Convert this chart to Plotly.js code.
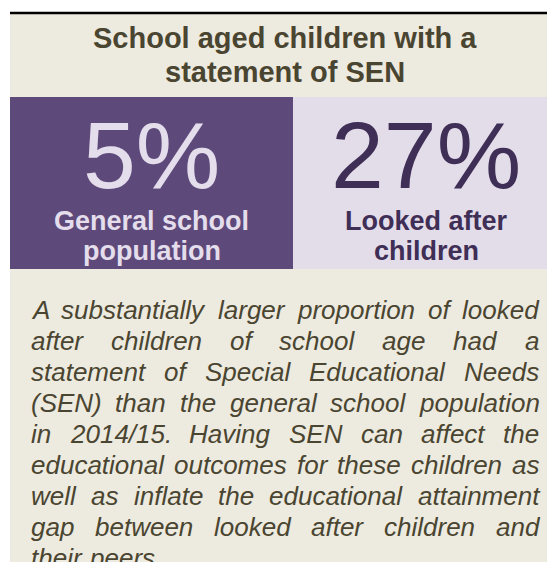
<!DOCTYPE html>
<html><head><meta charset="utf-8">
<script src="https://cdn.plot.ly/plotly-3.0.1.min.js"></script>
<style>html,body{margin:0;padding:0;background:#fff;overflow:hidden}#chart{width:547px;height:562px}</style>
</head><body><div id="chart"></div>
<script>
// ---- data ----
const titleLines = ['School aged children with a', 'statement of SEN'];
const categoryLines = [['General school', 'population'], ['Looked after', 'children']];
const values = [5, 27];
const valueSuffix = '%';
const paragraphLines = [
  'A substantially larger proportion of looked',
  'after children of school age had a',
  'statement of Special Educational Needs',
  '(SEN) than the general school population',
  'in 2014/15. Having SEN can affect the',
  'educational outcomes for these children as',
  'well as inflate the educational attainment',
  'gap between looked after children and',
  'their peers.'
];

// ---- layout constants ----
const W = 547, H = 562;
const FAMILY = "'Liberation Sans', Arial, sans-serif";
const BG = '#EDEADF';
const TEXT_DARK = '#4A4531';
const panel = {x0: 10, x1: 559, y0: 14, y1: H};
const tileBox = {y0: 97, y1: 269};
const tileStyle = [
  {x0: 10, x1: 293, fill: '#5E4A7A', color: '#E4DDEC'},
  {x0: 293, x1: 559, fill: '#E3DDEA', color: '#3F2E55'}
];
const ASC = 0.3465; // baseline -> bbox-centre offset (em)

const shapes = [
  {type: 'rect', xref: 'x', yref: 'y', x0: panel.x0, x1: panel.x1, y0: panel.y0, y1: panel.y1, fillcolor: BG, line: {width: 0}, layer: 'below'},
  {type: 'line', xref: 'x', yref: 'y', x0: panel.x0, x1: panel.x1, y0: 13, y1: 13, line: {color: '#000', width: 2.5}}
];
const annotations = [];
function addText(text, x, baseline, size, color, opts) {
  annotations.push(Object.assign({
    xref: 'x', yref: 'y', x: x, y: baseline - ASC * size, text: text, showarrow: false,
    xanchor: 'center', yanchor: 'middle', borderpad: 0, borderwidth: 0,
    font: {family: FAMILY, size: size, color: color}
  }, opts || {}));
}

// title
const titleSize = 29;
titleLines.forEach((t, i) => addText('<b>' + t + '</b>', (panel.x0 + panel.x1) / 2, 48 + i * 34, titleSize, TEXT_DARK));

// tiles
values.forEach((v, i) => {
  const s = tileStyle[i];
  shapes.push({type: 'rect', xref: 'x', yref: 'y', x0: s.x0, x1: s.x1, y0: tileBox.y0, y1: tileBox.y1, fillcolor: s.fill, line: {width: 0}, layer: 'below'});
  const cx = (s.x0 + s.x1) / 2;
  addText(String(v) + valueSuffix, cx, 188, 95, s.color);
  categoryLines[i].forEach((ln, j) => addText('<b>' + ln + '</b>', cx, 230 + j * 30, 27, s.color));
});

// justified paragraph
const pSize = 26, pLeft = 31, pRight = 539, pBase = 319.5, pStep = 30.9;
const cv = document.createElement('canvas').getContext('2d');
cv.font = "italic " + pSize + "px 'Liberation Sans'";
paragraphLines.forEach((line, k) => {
  const words = line.split(' ');
  const widths = words.map(w => cv.measureText(w).width);
  const total = widths.reduce((a, b) => a + b, 0);
  const last = k === paragraphLines.length - 1;
  const gap = (last || words.length < 2) ? cv.measureText(' ').width : (pRight - pLeft - total) / (words.length - 1);
  let x = pLeft;
  words.forEach((w, i) => {
    addText(w, x, pBase + k * pStep, pSize, TEXT_DARK, {xanchor: 'left', font: {family: FAMILY, size: pSize, color: TEXT_DARK, style: 'italic'}});
    x += widths[i] + gap;
  });
});

const layout = {
  width: W, height: H, margin: {l: 0, r: 0, t: 0, b: 0},
  paper_bgcolor: '#fff', plot_bgcolor: '#fff', showlegend: false,
  xaxis: {range: [0, W], visible: false, fixedrange: true},
  yaxis: {range: [H, 0], visible: false, fixedrange: true},
  shapes: shapes, annotations: annotations
};
Plotly.newPlot('chart', [{x: [], y: [], type: 'scatter', mode: 'markers', hoverinfo: 'skip'}], layout, {displayModeBar: false, staticPlot: true});
</script></body></html>
